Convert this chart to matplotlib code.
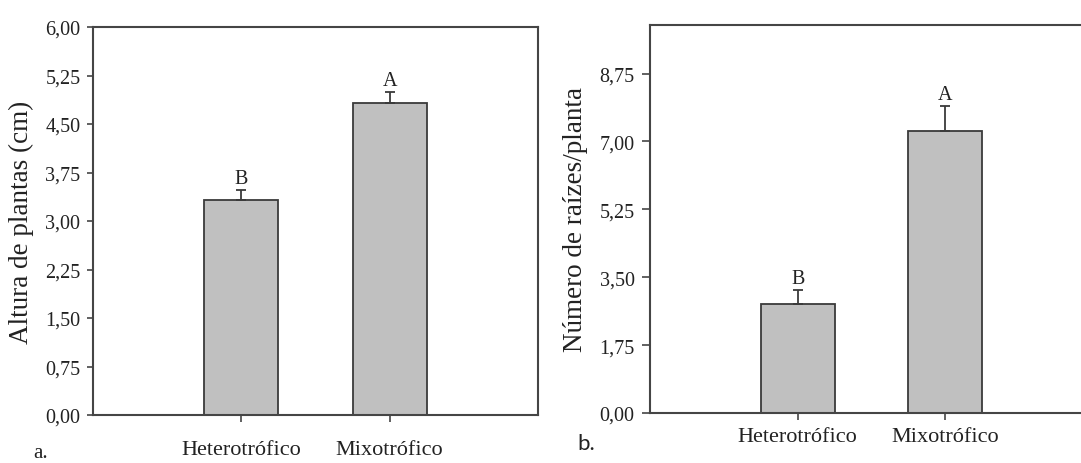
import matplotlib
matplotlib.use("Agg")
import matplotlib.pyplot as plt

categories = ["Heterotrófico", "Mixotrófico"]
altura = [3.32, 4.82]
altura_err = [0.16, 0.17]
altura_letters = ["B", "A"]
raizes = [2.81, 7.26]
raizes_err = [0.37, 0.64]
raizes_letters = ["B", "A"]
altura_ticks = [0.0, 0.75, 1.5, 2.25, 3.0, 3.75, 4.5, 5.25, 6.0]
raizes_ticks = [0.0, 1.75, 3.5, 5.25, 7.0, 8.75]

plt.rcParams['font.family'] = ['Liberation Serif', 'DejaVu Serif']

W, H = 1081, 464
fig = plt.figure(figsize=(W / 100, H / 100), dpi=100)

face = "#c0c0c0"
edge = "#3a3a3a"
spine_c = "#454545"


def fmt(v):
    return f"{v:.2f}".replace(".", ",")


def panel(rect, vals, errs, letters, ticks, ylim, ylabel, tick_len, xpad):
    ax = fig.add_axes(rect)
    x = [1, 2]
    ax.bar(x, vals, width=0.5, color=face, edgecolor=edge, linewidth=1.3, zorder=2)
    ax.errorbar(x, vals, yerr=[[0] * len(errs), errs], fmt="none",
                ecolor=edge, elinewidth=1.3, capsize=3.5, capthick=1.3, zorder=3)
    for xi, v, e, L in zip(x, vals, errs, letters):
        ax.annotate(L, (xi, v + e), xytext=(0, 1.5), textcoords="offset points",
                    ha="center", va="bottom", fontsize=14.5, color="#222222")
    ax.set_xlim(0, 3)
    ax.set_ylim(*ylim)
    ax.set_yticks(ticks)
    ax.set_yticklabels([fmt(t) for t in ticks])
    ax.set_xticks(x)
    ax.set_xticklabels(categories)
    ax.tick_params(axis="y", direction="out", length=tick_len, width=1.2,
                   colors=spine_c, labelcolor="#222222", labelsize=14.5, pad=5)
    ax.tick_params(axis="x", direction="out", length=5, width=1.2,
                   colors=spine_c, labelcolor="#222222", labelsize=16, pad=xpad)
    for s in ax.spines.values():
        s.set_color(spine_c)
        s.set_linewidth(1.5)
    ax.set_ylabel(ylabel, fontsize=19.5, color="#222222")
    return ax


ax1 = panel([93 / W, (H - 416) / H, 445 / W, 388 / H], altura, altura_err,
            altura_letters, altura_ticks, (0, 6), "Altura de plantas (cm)", 4, 13)
ax1.yaxis.set_label_coords(-0.132, 0.5)

ax2 = panel([650 / W, (H - 414) / H, 443 / W, 388 / H], raizes, raizes_err,
            raizes_letters, raizes_ticks, (0, 10), "Número de raízes/planta", 6, 5)
ax2.yaxis.set_label_coords(-0.140, 0.5)

fig.text(33 / W, 1 - 454 / H, "a.", fontsize=15, va="center", ha="left", color="#222222")
fig.text(577 / W, 1 - 444 / H, "b.", fontsize=16, va="center", ha="left",
         family=["Lato", "DejaVu Sans"], color="#222222")

fig.savefig("out.png", dpi=100)
